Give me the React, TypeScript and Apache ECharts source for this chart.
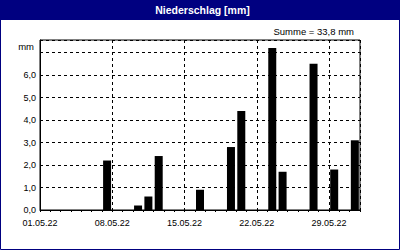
import React, { useEffect, useRef } from "react";
import * as echarts from "echarts";

const dates = ["07.05.22", "10.05.22", "11.05.22", "12.05.22", "16.05.22", "19.05.22", "20.05.22", "23.05.22", "24.05.22", "27.05.22", "29.05.22", "31.05.22"];
const values = [2.2, 0.2, 0.6, 2.4, 0.9, 2.8, 4.4, 7.2, 1.7, 6.5, 1.8, 3.1];
const xTickLabels = ["01.05.22", "08.05.22", "15.05.22", "22.05.22", "29.05.22"];
const titleText = "Niederschlag [mm]";
const unitText = "mm";

const FONT = "'Liberation Sans', Arial, sans-serif";

export default function App() {
  const ref = useRef<HTMLDivElement>(null);
  useEffect(() => {
    if (!ref.current) return;
    const chart = echarts.init(ref.current, undefined, { renderer: "svg" });
    const dayIndex = (d: string) => parseInt(d.slice(0, 2), 10);
    const barData = dates.map((d, i) => [dayIndex(d) - 0.5, values[i]]);
    const sum = values.reduce((a, b) => a + b, 0);
    const sumText = "Summe = " + sum.toFixed(1).replace(".", ",") + " mm";
    const yMax = Math.max(...values) * 1.05;

    chart.setOption({
      animation: false,
      backgroundColor: "#ffffff",
      grid: {
        left: 40,
        top: 40,
        width: 320,
        height: 170,
        show: true,
        borderColor: "#000",
        borderWidth: 1,
        backgroundColor: "#ffffff",
      },
      xAxis: [
        {
          type: "value",
          min: 0,
          max: 31,
          interval: 7,
          axisLine: { show: true, lineStyle: { color: "#000", width: 1 } },
          axisTick: { show: false },
          axisLabel: {
            show: true,
            margin: 8,
            color: "#000",
            fontFamily: FONT,
            fontSize: 9,
            showMaxLabel: false,
            formatter: (v: number) => {
              const i = Math.round(v / 7);
              if (Math.abs(v - i * 7) > 1e-6) return "";
              return xTickLabels[i] ?? "";
            },
          },
          splitLine: { show: true, lineStyle: { color: "#000", type: [3, 3], width: 1 } },
        },
        {
          type: "value",
          min: 0,
          max: 31,
          interval: 1,
          position: "bottom",
          axisLine: { show: false },
          axisTick: { show: true, length: 2, lineStyle: { color: "#000" } },
          axisLabel: { show: false },
          splitLine: { show: false },
        },
      ],
      yAxis: {
        type: "value",
        min: 0,
        max: yMax,
        interval: 1,
        axisLine: { show: true, lineStyle: { color: "#000", width: 1 } },
        axisTick: { show: false },
        axisLabel: {
          margin: 4,
          color: "#000",
          fontFamily: FONT,
          fontSize: 9,
          showMaxLabel: false,
          formatter: (v: number) => (v <= 6.0001 ? v.toFixed(1).replace(".", ",") : ""),
        },
        splitLine: { show: true, lineStyle: { color: "#000", type: [3, 3], width: 1 } },
      },
      series: [
        {
          type: "bar",
          xAxisIndex: 0,
          data: barData,
          barWidth: 8,
          itemStyle: { color: "#000" },
        },
      ],
      graphic: [
        {
          type: "rect",
          shape: { x: 0, y: 0, width: 400, height: 20 },
          style: { fill: "#000080" },
          z: 10,
        },
        {
          type: "rect",
          shape: { x: 0.5, y: 0.5, width: 399, height: 249 },
          style: { fill: "none", stroke: "#000080", lineWidth: 1 },
          z: 10,
        },
        {
          type: "text",
          x: 202.5,
          y: 10,
          style: {
            text: titleText,
            fill: "#ffffff",
            font: "bold 10.5px " + FONT,
            textAlign: "center",
            textVerticalAlign: "middle",
          },
          z: 11,
        },
        {
          type: "text",
          x: 354,
          y: 31,
          style: {
            text: sumText,
            fill: "#000",
            font: "9.5px " + FONT,
            textAlign: "right",
            textVerticalAlign: "middle",
          },
          z: 11,
        },
        {
          type: "text",
          x: 34,
          y: 46,
          style: {
            text: unitText,
            fill: "#000",
            font: "9.5px " + FONT,
            textAlign: "right",
            textVerticalAlign: "middle",
          },
          z: 11,
        },
      ],
    });
    return () => chart.dispose();
  }, []);
  return (
    <div
      ref={ref}
      style={{ position: "absolute", left: 0, top: 0, width: 400, height: 250 }}
    />
  );
}
